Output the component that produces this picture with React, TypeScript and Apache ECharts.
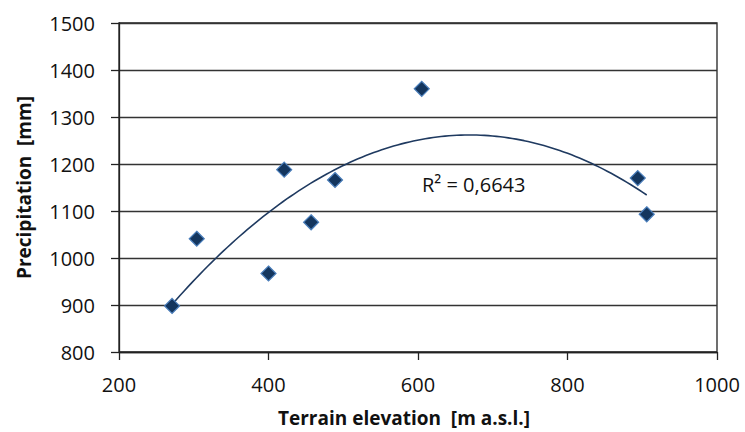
import React, { useEffect, useRef } from "react";
import * as echarts from "echarts";

const elevation = [271, 304, 400, 421, 457, 489, 605, 894, 906];
const precipitation = [898, 1041, 967, 1188, 1076, 1166, 1360, 1170, 1093];
const xTicks = { min: 200, max: 1000, interval: 200 };
const yTicks = { min: 800, max: 1500, interval: 100 };
const r2Label = "R² = 0,6643";

// least-squares quadratic fit (Excel polynomial trendline, order 2)
function quadFit(xs: number[], ys: number[]) {
  const n = xs.length;
  const s = [0, 0, 0, 0, 0];
  const t = [0, 0, 0];
  for (let i = 0; i < n; i++) {
    const x = xs[i], y = ys[i];
    for (let k = 0; k <= 4; k++) s[k] += Math.pow(x, k);
    for (let k = 0; k <= 2; k++) t[k] += Math.pow(x, k) * y;
  }
  const A = [
    [s[0], s[1], s[2], t[0]],
    [s[1], s[2], s[3], t[1]],
    [s[2], s[3], s[4], t[2]],
  ];
  for (let c = 0; c < 3; c++) {
    let p = c;
    for (let r = c + 1; r < 3; r++) if (Math.abs(A[r][c]) > Math.abs(A[p][c])) p = r;
    [A[c], A[p]] = [A[p], A[c]];
    for (let r = 0; r < 3; r++) {
      if (r === c) continue;
      const f = A[r][c] / A[c][c];
      for (let k = c; k < 4; k++) A[r][k] -= f * A[c][k];
    }
  }
  return [A[0][3] / A[0][0], A[1][3] / A[1][1], A[2][3] / A[2][2]];
}

export default function App() {
  const ref = useRef<HTMLDivElement>(null);
  useEffect(() => {
    if (!ref.current) return;
    const chart = echarts.init(ref.current, undefined, { renderer: "svg" });
    const [c0, c1, c2] = quadFit(elevation, precipitation);
    const xMin = Math.min(...elevation);
    const xMax = Math.max(...elevation);
    const trend: number[][] = [];
    const steps = 120;
    for (let i = 0; i <= steps; i++) {
      const x = xMin + ((xMax - xMin) * i) / steps;
      trend.push([x, c0 + c1 * x + c2 * x * x]);
    }
    const font = "'Open Sans', Lato, sans-serif";
    const plain = (v: number) => String(v);
    chart.setOption({
      animation: false,
      backgroundColor: "#ffffff",
      grid: {
        left: 119,
        right: 28,
        top: 23,
        bottom: 80,
        show: true,
        borderColor: "#222",
        borderWidth: 1.3,
        backgroundColor: "transparent",
      },
      xAxis: {
        type: "value",
        min: xTicks.min,
        max: xTicks.max,
        interval: xTicks.interval,
        name: "Terrain elevation  [m a.s.l.]",
        nameLocation: "middle",
        nameGap: 56,
        nameTextStyle: {
          fontFamily: font,
          fontWeight: "bold",
          fontSize: 19,
          color: "#111",
          padding: [0, 28, 0, 0],
        },
        axisLine: { show: true, lineStyle: { color: "#222", width: 1.3 } },
        axisTick: { show: true, length: 8, lineStyle: { color: "#222", width: 1.3 } },
        axisLabel: { fontFamily: font, fontSize: 20, color: "#111", margin: 22, formatter: plain },
        splitLine: { show: false },
      },
      yAxis: {
        type: "value",
        min: yTicks.min,
        max: yTicks.max,
        interval: yTicks.interval,
        name: "Precipitation  [mm]",
        nameLocation: "middle",
        nameGap: 86,
        nameTextStyle: {
          fontFamily: font,
          fontWeight: "bold",
          fontSize: 19,
          color: "#111",
        },
        axisLine: { show: true, lineStyle: { color: "#222", width: 1.3 } },
        axisTick: { show: true, length: 8, lineStyle: { color: "#222", width: 1.3 } },
        axisLabel: { fontFamily: font, fontSize: 20, color: "#111", margin: 24, formatter: plain },
        splitLine: { show: true, lineStyle: { color: "#333", width: 1.3 } },
      },
      graphic: [
        {
          type: "text",
          left: 422,
          top: 174,
          style: {
            text: r2Label,
            fontFamily: font,
            fontSize: 20,
            fill: "#111",
          },
        },
      ],
      series: [
        {
          type: "line",
          data: trend,
          showSymbol: false,
          symbol: "none",
          smooth: false,
          lineStyle: { color: "#1f3a60", width: 1.6 },
          z: 2,
        },
        {
          type: "scatter",
          data: elevation.map((x, i) => [x, precipitation[i]]),
          symbol: "diamond",
          symbolSize: 15,
          itemStyle: { color: "#14365e", borderColor: "#4a7ebb", borderWidth: 1.2, opacity: 1 },
          z: 3,
        },
      ],
    });
    return () => chart.dispose();
  }, []);
  return <div ref={ref} style={{ width: 745, height: 432, position: "absolute", left: 0, top: 0 }} />;
}
